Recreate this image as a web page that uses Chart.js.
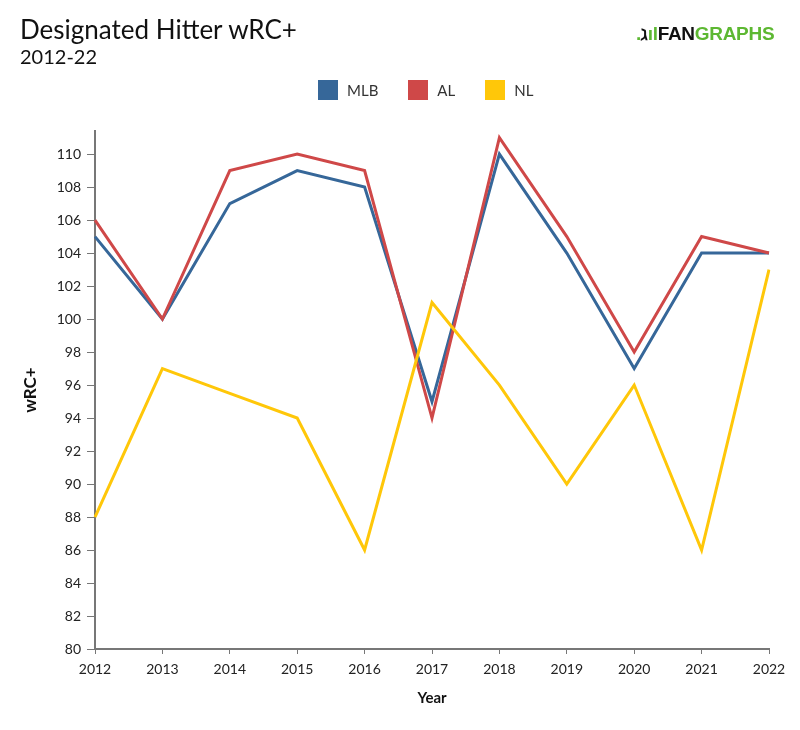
<!DOCTYPE html>
<html>
<head>
<meta charset="utf-8">
<script src="https://cdn.jsdelivr.net/npm/chart.js@4"></script>
<style>
  html, body { margin: 0; padding: 0; background: #fff; }
  #wrap { position: relative; width: 800px; height: 730px; font-family: Lato, "Open Sans", sans-serif; }
  #c { position: absolute; left: 0; top: 0; }
  #title { position: absolute; left: 20px; top: 13px; font-size: 26px; color: #111; white-space: nowrap; }
  #sub { position: absolute; left: 20px; top: 44px; font-size: 20px; color: #111; white-space: nowrap; }
  #logo { position: absolute; left: 636px; top: 20px; font-family: "Liberation Sans", Arial, sans-serif; font-weight: bold; font-size: 19px; letter-spacing: -0.3px; white-space: nowrap; }
  #logo .g { color: #5db832; }
  #logo .k { color: #111; }
  #legend { position: absolute; top: 80px; left: 318px; display: flex; font-size: 15px; color: #333; }
  .item { display: flex; align-items: center; margin-right: 30px; }
  .box { width: 20px; height: 20px; margin-right: 9px; }
</style>
</head>
<body>
<div id="wrap">
  <canvas id="c" width="800" height="730"></canvas>
  <div id="title">Designated Hitter wRC+</div>
  <div id="sub">2012-22</div>
  <div id="logo"><span class="g">.</span><span class="k">ℷ</span><span class="g">ıl</span><span class="k">FAN</span><span class="g">GRAPHS</span></div>
  <div id="legend"></div>
</div>
<script>
const years = ['2012','2013','2014','2015','2016','2017','2018','2019','2020','2021','2022'];
const mlb = [105, 100, 107, 109, 108, 95, 110, 104, 97, 104, 104];
const al  = [106, 100, 109, 110, 109, 94, 111, 105, 98, 105, 104];
const nl  = [88, 97, 95.5, 94, 86, 101, 96, 90, 96, 86, 103];
const seriesNames = ['MLB', 'AL', 'NL'];
const seriesColors = ['#366799', '#cf4848', '#ffc709'];

const legend = document.getElementById('legend');
seriesNames.forEach((n, i) => {
  const it = document.createElement('div');
  it.className = 'item';
  it.innerHTML = '<div class="box" style="background:' + seriesColors[i] + '"></div><span>' + n + '</span>';
  legend.appendChild(it);
});

const values = [mlb, al, nl];
const datasets = seriesNames.map((n, i) => ({
  label: n,
  data: values[i],
  borderColor: seriesColors[i],
  backgroundColor: seriesColors[i],
  borderWidth: 3,
  pointRadius: 0,
  pointHoverRadius: 0,
  tension: 0,
  fill: false,
  order: 3 - i
}));

new Chart(document.getElementById('c'), {
  type: 'line',
  data: { labels: years, datasets },
  options: {
    responsive: false,
    animation: false,
    layout: { padding: { top: 131, right: 31, left: 0, bottom: 0 } },
    plugins: { legend: { display: false }, tooltip: { enabled: false }, title: { display: false } },
    scales: {
      x: {
        offset: false,
        grid: { drawOnChartArea: false, drawTicks: true, tickLength: 5, color: '#777', lineWidth: 1 },
        border: { color: '#777', width: 2 },
        ticks: { color: '#222', font: { family: 'Lato', size: 14 }, padding: 7, maxRotation: 0, autoSkip: false },
        title: { display: true, text: 'Year', color: '#111', font: { family: 'Lato', size: 15, weight: 'bold' }, padding: { top: 0, bottom: 23 } },
        afterFit: (s) => { s.height = 81; }
      },
      y: {
        min: 80,
        max: 111.4,
        grid: { drawOnChartArea: false, drawTicks: true, tickLength: 8, color: '#777', lineWidth: 1 },
        border: { color: '#777', width: 2 },
        ticks: { stepSize: 2, color: '#222', font: { family: 'Lato', size: 14 }, padding: 6, includeBounds: false },
        afterBuildTicks: (s) => { s.ticks = s.ticks.filter(t => t.value % 2 === 0); },
        title: { display: true, text: 'wRC+', color: '#111', font: { family: 'Lato', size: 17, weight: 'bold' }, padding: { top: 20, bottom: 0 } },
        afterFit: (s) => { s.width = 95; }
      }
    }
  }
});
</script>
</body>
</html>
